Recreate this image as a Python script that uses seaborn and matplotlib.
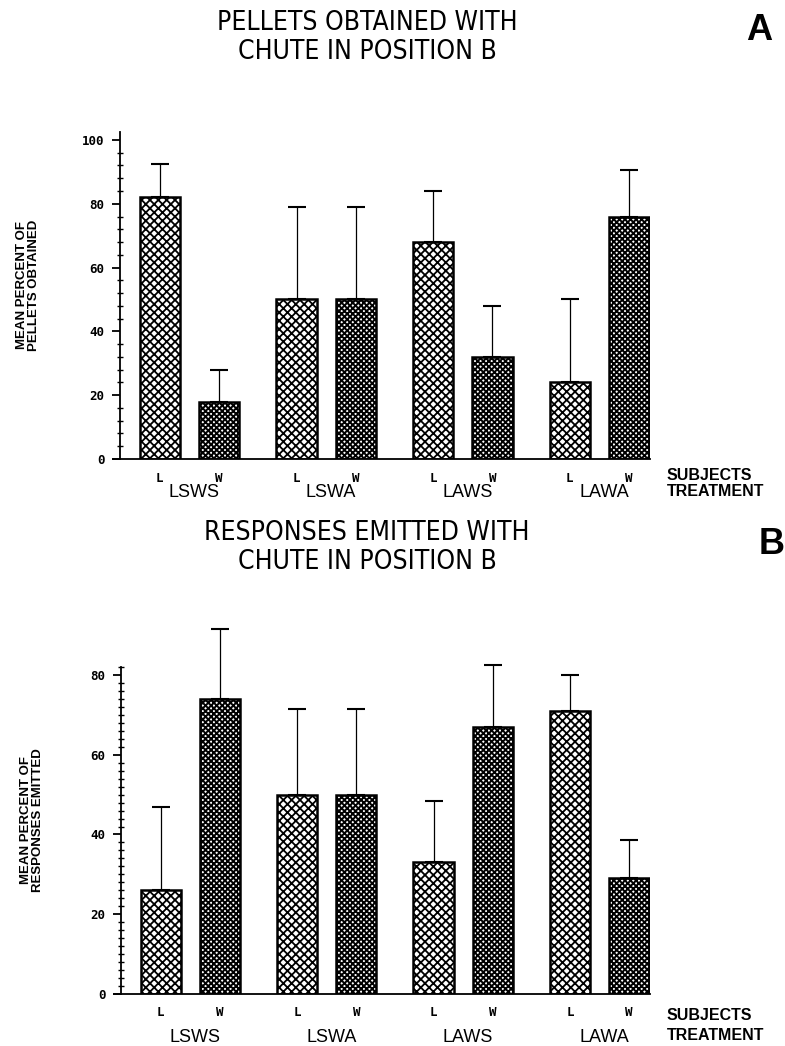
import numpy as np
import pandas as pd
import matplotlib
matplotlib.use("Agg")
import matplotlib.pyplot as plt
from matplotlib import font_manager
from matplotlib.ticker import MultipleLocator
import seaborn as sns

sns.set_theme(style="ticks")
plt.rcParams["font.family"] = ["Liberation Sans", "DejaVu Sans"]
plt.rcParams["hatch.linewidth"] = 1.3
plt.rcParams["text.color"] = "black"
plt.rcParams["xtick.color"] = "black"
plt.rcParams["ytick.color"] = "black"

# data (mean percent, and the upper SD whisker length)
treatments = ["LSWS", "LSWA", "LAWS", "LAWA"]
subjects = ["L", "W"]

pellets_L = [82, 50, 68, 24]
pellets_W = [18, 50, 32, 76]
pellets_L_sd = [10.5, 29, 16, 26]
pellets_W_sd = [10, 29, 16, 14.5]

responses_L = [26, 50, 33, 71]
responses_W = [74, 50, 67, 29]
responses_L_sd = [21, 21.5, 15.5, 9]
responses_W_sd = [17.5, 21.5, 15.5, 9.5]

yticks_a = [0, 20, 40, 60, 80, 100]
yticks_b = [0, 20, 40, 60, 80]

W_PX, H_PX = 785, 1046

names = {f.name for f in font_manager.fontManager.ttflist}
if "Liberation Sans Narrow" in names:
    title_kw = dict(family="Liberation Sans Narrow", fontsize=21)
else:
    title_kw = dict(family="DejaVu Sans", fontstretch="condensed", fontsize=19)
mono = dict(family="DejaVu Sans Mono", fontweight="bold", fontsize=9)


def make_frame(l_vals, w_vals, l_sd, w_sd):
    rows = []
    for i, t in enumerate(treatments):
        rows.append((t, "L", l_vals[i], l_sd[i]))
        rows.append((t, "W", w_vals[i], w_sd[i]))
    return pd.DataFrame(rows, columns=["treatment", "subject", "value", "sd"])


def fx(x):
    return x / W_PX


def fy(y):
    return 1 - y / H_PX


def draw_panel(ax, df, yticks, ytop, minor_step, group_dy):
    sns.barplot(data=df, x="treatment", y="value", hue="subject",
                order=treatments, hue_order=subjects,
                palette={"L": "white", "W": "white"}, edgecolor="black",
                linewidth=1.8, width=0.868, gap=0.32, errorbar=None,
                legend=False, ax=ax)
    hatches = {"L": "xxxx", "W": "xxxxxx"}
    hlw = {"L": 1.3, "W": 1.4}
    centers = []
    for cont, s in zip(ax.containers, subjects):
        sub = df[df.subject == s].set_index("treatment").loc[treatments]
        xs = []
        for bar in cont:
            bar.set_hatch(hatches[s])
            if hasattr(bar, "set_hatch_linewidth"):
                bar.set_hatch_linewidth(hlw[s])
            xs.append(bar.get_x() + bar.get_width() / 2)
        centers += [(x, s) for x in xs]
        ax.errorbar(xs, sub["value"], yerr=[np.zeros(len(xs)), sub["sd"]],
                    fmt="none", ecolor="black", elinewidth=0.9, capsize=6.5,
                    capthick=1.5, clip_on=False, zorder=3)

    centers.sort()
    ax.set_xticks([c[0] for c in centers], [c[1] for c in centers])
    ax.set_xlim(-0.56, 3.37)
    ax.set_ylim(0, ytop)
    ax.set_yticks(yticks)
    ax.yaxis.set_minor_locator(MultipleLocator(minor_step))
    ax.set_xlabel("")
    ax.set_ylabel("")
    sns.despine(ax=ax)
    ax.spines["left"].set_position(("axes", 0.013))
    for sp in ("left", "bottom"):
        ax.spines[sp].set_linewidth(1.3)
        ax.spines[sp].set_color("black")
    ax.tick_params(axis="x", length=0, pad=9)
    ax.tick_params(axis="y", which="major", direction="out", length=6,
                   width=1.3, pad=5)
    ax.tick_params(axis="y", which="minor", direction="inout", length=5,
                   width=1.0)
    for lab in ax.get_xticklabels() + ax.get_yticklabels():
        lab.set_fontfamily(mono["family"])
        lab.set_fontweight("bold")
        lab.set_fontsize(mono["fontsize"])
    for i, t in enumerate(treatments):
        ax.annotate(t, xy=(i, 0), xycoords=("data", "axes fraction"),
                    xytext=(3.5, -group_dy), textcoords="offset points",
                    ha="center", va="center", fontsize=13,
                    annotation_clip=False)


fig = plt.figure(figsize=(7.85, 10.46), dpi=100)
ax_a = fig.add_axes([fx(113), fy(459), 537 / W_PX, (459 - 132) / H_PX])
ax_b = fig.add_axes([fx(114), fy(994), 536 / W_PX, (994 - 667) / H_PX])

df_a = make_frame(pellets_L, pellets_W, pellets_L_sd, pellets_W_sd)
df_b = make_frame(responses_L, responses_W, responses_L_sd, responses_W_sd)

draw_panel(ax_a, df_a, yticks_a, 102.5, 4, 24)
draw_panel(ax_b, df_b, yticks_b, 82, 2, 31)

# titles and panel letters
fig.text(fx(367), fy(23), "PELLETS OBTAINED WITH", ha="center", va="center", **title_kw)
fig.text(fx(367), fy(52), "CHUTE IN POSITION B", ha="center", va="center", **title_kw)
fig.text(fx(367), fy(533), "RESPONSES EMITTED WITH", ha="center", va="center", **title_kw)
fig.text(fx(367), fy(562), "CHUTE IN POSITION B", ha="center", va="center", **title_kw)
fig.text(fx(759), fy(30), "A", ha="center", va="center", fontsize=26, fontweight="bold")
fig.text(fx(772), fy(545), "B", ha="center", va="center", fontsize=26, fontweight="bold")

# y labels
fig.text(fx(28), fy(285), "MEAN PERCENT OF\nPELLETS OBTAINED", rotation=90,
         ha="center", va="center", multialignment="center", fontsize=9.5,
         fontweight="bold", linespacing=1.0)
fig.text(fx(32), fy(820), "MEAN PERCENT OF\nRESPONSES EMITTED", rotation=90,
         ha="center", va="center", multialignment="center", fontsize=9.5,
         fontweight="bold", linespacing=1.0)

# right side row labels
for y1, y2 in [(476, 492), (1015, 1036)]:
    fig.text(fx(667), fy(y1), "SUBJECTS", ha="left", va="center", fontsize=11.5, fontweight="bold")
    fig.text(fx(667), fy(y2), "TREATMENT", ha="left", va="center", fontsize=11.5, fontweight="bold")

fig.savefig("out.png", dpi=100, facecolor="white")
